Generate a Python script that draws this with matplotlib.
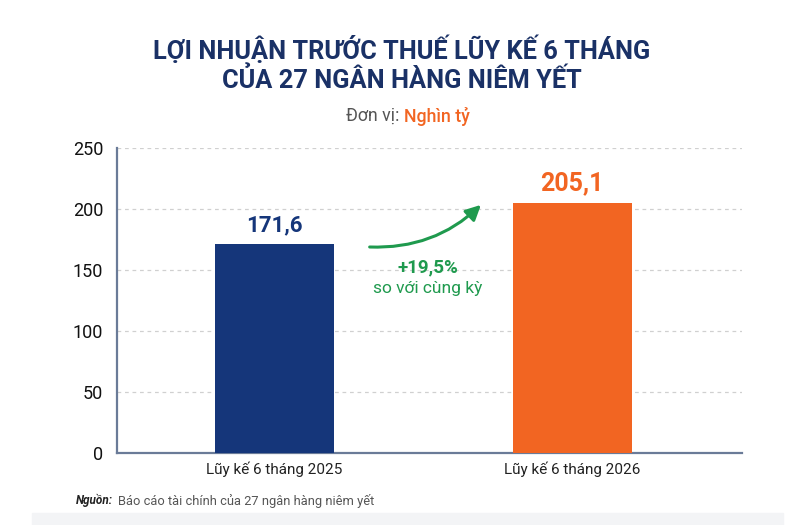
import matplotlib.pyplot as plt
from matplotlib.patches import Rectangle

plt.rcParams['font.family'] = ['Roboto', 'DejaVu Sans']

categories = ['Lũy kế 6 tháng 2025', 'Lũy kế 6 tháng 2026']
values = [171.6, 205.1]
value_labels = ['171,6', '205,1']
growth_label = '+19,5%'
yticks = [0, 50, 100, 150, 200, 250]

navy = '#15367a'
orange = '#f26522'
green = '#1f9a4e'
title_color = '#1a3166'

fig = plt.figure(figsize=(8.03, 5.25), dpi=100)
fig.patch.set_facecolor('white')
# faint band at the bottom of the card
fig.patches.append(Rectangle((0.04, 0.0), 0.935, 0.022, transform=fig.transFigure,
                             color='#f3f4f6', zorder=0))
ax = fig.add_axes([0.1457, 0.137, 0.778, 0.581])

x = list(range(len(categories)))
ax.bar(x, values, width=0.4, color=[navy, orange], zorder=3)

ax.set_xlim(-0.53, 1.57)
ax.set_ylim(0, 250)
ax.set_yticks(yticks)
ax.set_xticks(x)
ax.set_xticklabels(categories, fontsize=11, color='#222222')
ax.tick_params(axis='y', labelsize=13, colors='#111111', length=0, pad=10)
ax.tick_params(axis='x', length=0, pad=6)

for t in yticks[1:]:
    ax.axhline(t, color='#d0d0d0', lw=0.9, ls=(0, (3, 3)), zorder=1)

for s in ['top', 'right']:
    ax.spines[s].set_visible(False)
for s in ['left', 'bottom']:
    ax.spines[s].set_color('#6a7b98')
    ax.spines[s].set_linewidth(1.6)

# value labels
ax.text(x[0], values[0] + 6, value_labels[0], ha='center', va='bottom',
        fontsize=16, fontweight='bold', color=navy)
ax.text(x[1], values[1] + 6, value_labels[1], ha='center', va='bottom',
        fontsize=18, fontweight='bold', color=orange)

# growth arrow
ax.annotate('', xy=(0.70, 205), xytext=(0.31, 169),
            arrowprops=dict(arrowstyle='-|>,head_length=0.9,head_width=0.45',
                            connectionstyle='arc3,rad=0.22', color=green, lw=2.2))
ax.text(0.515, 152, growth_label, ha='center', va='center', fontsize=13.5,
        fontweight='bold', color=green)
ax.text(0.515, 135, 'so với cùng kỳ', ha='center', va='center', fontsize=12.5,
        color=green)

# titles
fig.text(0.5, 0.905, 'LỢI NHUẬN TRƯỚC THUẾ LŨY KẾ 6 THÁNG', ha='center', va='center',
         fontsize=18.3, fontweight='bold', color=title_color)
fig.text(0.5, 0.848, 'CỦA 27 NGÂN HÀNG NIÊM YẾT', ha='center', va='center',
         fontsize=18.3, fontweight='bold', color=title_color)
fig.text(0.503, 0.779, 'Đơn vị: ', ha='right', va='center', fontsize=12.8, color='#555555')
fig.text(0.503, 0.779, 'Nghìn tỷ', ha='left', va='center', fontsize=12.8,
         color=orange, fontweight='medium')

# source
fig.text(0.095, 0.046, 'Nguồn:', ha='left', va='center', fontsize=8.5,
         fontweight='bold', fontstyle='italic', color='#222222')
fig.text(0.147, 0.046, 'Báo cáo tài chính của 27 ngân hàng niêm yết', ha='left',
         va='center', fontsize=9.3, color='#555555')

fig.savefig('out.png', dpi=100, facecolor='white')
